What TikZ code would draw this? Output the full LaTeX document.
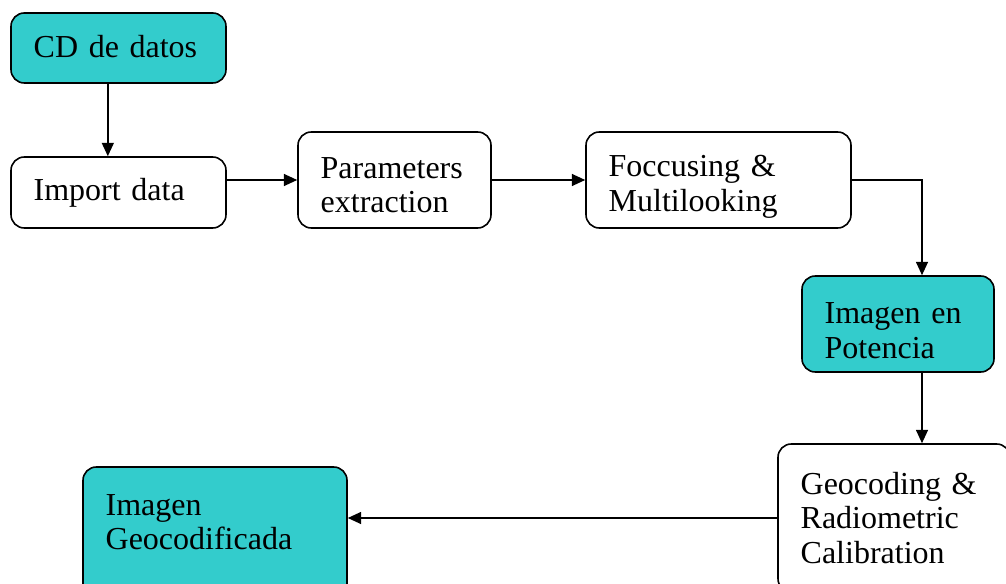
\documentclass[tikz,border=0pt]{standalone}
\usepackage{fontspec}
\setmainfont[WordSpace=0.85]{Liberation Serif}
\usetikzlibrary{arrows.meta}
\definecolor{boxcyan}{HTML}{33CCCC}
\hyphenpenalty=10000

\begin{document}
\begin{tikzpicture}[x=0.75pt, y=-0.75pt,
        block/.style={draw, line width=1.2pt, rounded corners=10pt, align=left,
            inner xsep=17pt, inner ysep=0pt, font=\fontsize{24}{26}\selectfont},
        data/.style={block, fill=boxcyan},
        flow/.style={-{Triangle[length=10pt,width=9pt]}, line width=1pt}]
        \useasboundingbox (0,0) rectangle (1006,584);

        % Draw the blocks
        \node[data, text width=127.25pt, minimum height=52.5pt, text depth=3pt] (cd) at (118.5,48) {CD de datos};
        \node[block, text width=127.25pt, minimum height=53.25pt] (import) at (118.5,192.5) {Import data};
        \node[block, text width=110.75pt, minimum height=72pt, text depth=18.5pt] (params) at (394.5,180) {Parameters\\extraction};
        \node[block, text width=164.75pt, minimum height=72pt, text depth=20.5pt] (focus) at (718.5,180) {Foccusing \&\\Multilooking};
        \node[data, text width=110pt, minimum height=72pt, text depth=16pt] (pot) at (898,324) {Imagen en\\Potencia};
        \node[block, text width=140pt, minimum height=111pt] (geo) at (894,518) {Geocoding \&\\Radiometric\\Calibration};
        \node[data, text width=164pt, minimum height=99.75pt, text depth=43pt] (gcod) at (215,533.5) {Imagen\\Geocodificada};

        % Connect the blocks with arrows
        \draw[flow] ([xshift=-8pt]cd.south) -- ([xshift=-8pt]import.north);
        \draw[flow] (import.east |- params.west) -- (params.west);
        \draw[flow] (params.east) -- (focus.west);
        \draw[flow] (focus.east) -| ([xshift=18pt]pot.north);
        \draw[flow] ([xshift=18pt]pot.south) -- ([xshift=18pt]pot.south |- geo.north);
        \draw[flow] (geo.west) -- (geo.west -| gcod.east);

    \end{tikzpicture}
\end{document}
